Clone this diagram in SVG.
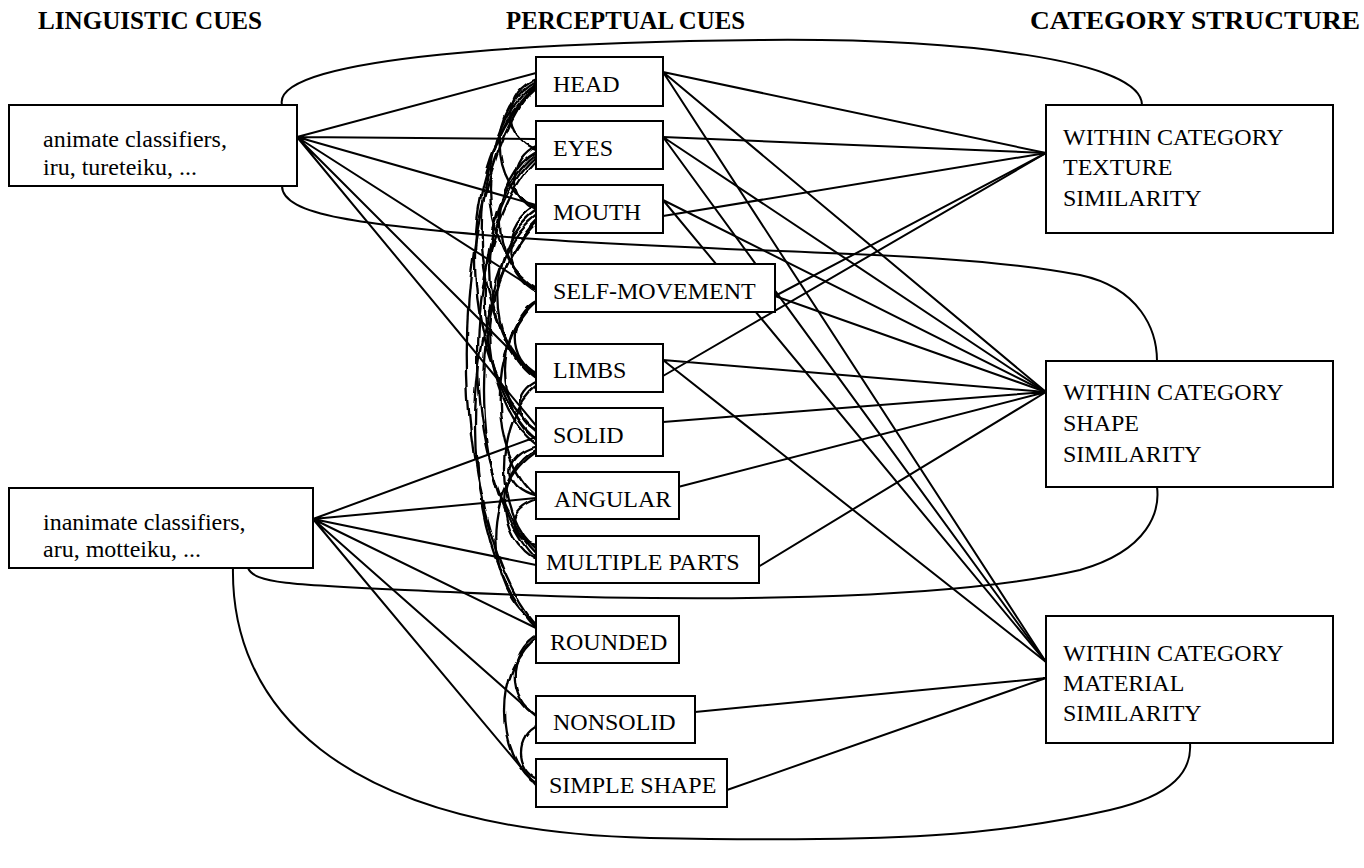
<svg xmlns="http://www.w3.org/2000/svg" width="1364" height="868" viewBox="0 0 1364 868">
<style>
.hdr{font-family:"Liberation Serif","Times New Roman",serif;font-weight:bold;font-size:25px;fill:#000}
.t{font-family:"Liberation Serif","Times New Roman",serif;font-size:24px;fill:#000}
.box{fill:#fff;stroke:#000;stroke-width:2}
.ln{fill:none;stroke:#000;stroke-width:2}
.wg{fill:none;stroke:#000;stroke-width:2.3}
</style>
<defs>
<filter id="wob" filterUnits="userSpaceOnUse" x="400" y="40" width="180" height="800">
<feTurbulence type="fractalNoise" baseFrequency="0.035" numOctaves="2" seed="3" result="n"/>
<feDisplacementMap in="SourceGraphic" in2="n" scale="6" xChannelSelector="R" yChannelSelector="G"/>
</filter>
</defs>
<rect width="1364" height="868" fill="#fff"/>
<g id="headers">
<text class="hdr" x="38" y="29" textLength="224" lengthAdjust="spacingAndGlyphs">LINGUISTIC CUES</text>
<text class="hdr" x="506" y="29" textLength="239" lengthAdjust="spacingAndGlyphs">PERCEPTUAL CUES</text>
<text class="hdr" x="1030" y="29" textLength="330" lengthAdjust="spacingAndGlyphs">CATEGORY STRUCTURE</text>
</g>
<g id="connectors">
<path class="ln" d="M282,105 C270,55 560,42 760,40 C960,38 1142,60 1142,105"/>
<path class="ln" d="M282,186 C282,215 360,225 520,238 C760,255 950,250 1080,275 C1140,288 1157,330 1157,361"/>
<path class="ln" d="M248,568 C255,585 300,585 450,592 C700,604 950,600 1080,570 C1150,550 1160,510 1157,487"/>
<path class="ln" d="M233,566 C230,700 330,830 650,838 C900,843 1000,835 1110,810 C1175,795 1192,770 1190,743"/>
<path class="ln" d="M297,137 L536,73 M297,137 L536,139 M297,137 L536,205 M297,137 L536,290 M297,137 L538,378 M297,137 L538,428"/>
<path class="ln" d="M313,519 L536,437 M313,519 L536,498 M313,519 L536,565 M313,519 L536,628 M313,519 L537,717 M313,519 L540,790"/>
<path class="ln" d="M663,72 L1046,153 M663,72 L1046,392 M663,72 L1046,662"/>
<path class="ln" d="M663,137 L1046,153 M663,137 L1046,392 M663,137 L1046,662"/>
<path class="ln" d="M663,216 L1046,153 M663,200 L1046,392 M663,200 L1046,662"/>
<path class="ln" d="M775,296 L1046,153 M775,296 L1046,392"/>
<path class="ln" d="M663,376 L1046,153 M663,360 L1046,392 M663,360 L1046,662"/>
<path class="ln" d="M663,422 L1046,392 M678,487 L1046,392 M758,567 L1046,392"/>
<path class="ln" d="M695,712 L1046,678 M727,790 L1046,678"/>
<g filter="url(#wob)">
<path class="wg" d="M538,78 C501,92 501,136 538,150"/>
<path class="wg" d="M538,80 C487,106 487,184 538,210"/>
<path class="wg" d="M538,82 C474,124 474,250 538,292"/>
<path class="wg" d="M538,84 C463,143 463,319 538,378"/>
<path class="wg" d="M538,86 C454,155 454,363 538,432"/>
<path class="wg" d="M538,80 C443,190 443,518 538,628"/>
<path class="wg" d="M538,145 C507,158 507,199 538,212"/>
<path class="wg" d="M538,150 C487,178 487,262 538,290"/>
<path class="wg" d="M538,152 C474,198 474,334 538,380"/>
<path class="wg" d="M538,155 C467,212 467,383 538,440"/>
<path class="wg" d="M538,158 C458,237 458,476 538,555"/>
<path class="wg" d="M538,205 C501,222 501,275 538,292"/>
<path class="wg" d="M538,210 C485,244 485,346 538,380"/>
<path class="wg" d="M538,215 C474,261 474,399 538,445"/>
<path class="wg" d="M538,220 C466,288 466,492 538,560"/>
<path class="wg" d="M538,222 C454,304 454,548 538,630"/>
<path class="wg" d="M538,300 C507,315 507,360 538,375"/>
<path class="wg" d="M538,300 C494,328 494,412 538,440"/>
<path class="wg" d="M538,300 C487,339 487,458 538,497"/>
<path class="wg" d="M538,382 C514,392 514,420 538,430"/>
<path class="wg" d="M538,385 C494,418 494,517 538,550"/>
<path class="wg" d="M538,445 C501,455 501,487 538,497"/>
<path class="wg" d="M538,448 C494,470 494,538 538,560"/>
<path class="wg" d="M538,500 C507,509 507,536 538,545"/>
<path class="wg" d="M538,450 C481,485 481,590 538,625"/>
<path class="wg" d="M538,635 C507,651 507,701 538,717"/>
<path class="wg" d="M538,637 C494,667 494,755 538,785"/>
<path class="wg" d="M538,725 C514,736 514,769 538,780"/>
</g>
</g>
<g id="animate">
<rect class="box" x="9" y="105" width="288" height="81"/>
<text class="t" x="43" y="147">animate classifiers,</text>
<text class="t" x="43" y="175">iru, tureteiku, ...</text>
</g>
<g id="inanimate">
<rect class="box" x="9" y="488" width="304" height="80"/>
<text class="t" x="43" y="530">inanimate classifiers,</text>
<text class="t" x="43" y="557">aru, motteiku, ...</text>
</g>
<g id="head"><rect class="box" x="536" y="57" width="127" height="49"/><text class="t" x="553" y="92">HEAD</text></g>
<g id="eyes"><rect class="box" x="536" y="121" width="127" height="48"/><text class="t" x="553" y="156">EYES</text></g>
<g id="mouth"><rect class="box" x="536" y="185" width="127" height="48"/><text class="t" x="553" y="220">MOUTH</text></g>
<g id="self-movement"><rect class="box" x="536" y="264" width="239" height="48"/><text class="t" x="553" y="299">SELF-MOVEMENT</text></g>
<g id="limbs"><rect class="box" x="536" y="344" width="127" height="48"/><text class="t" x="553" y="378">LIMBS</text></g>
<g id="solid"><rect class="box" x="536" y="408" width="127" height="48"/><text class="t" x="553" y="443">SOLID</text></g>
<g id="angular"><rect class="box" x="536" y="472" width="143" height="47"/><text class="t" x="554" y="507">ANGULAR</text></g>
<g id="multiple-parts"><rect class="box" x="536" y="536" width="223" height="47"/><text class="t" x="546" y="570">MULTIPLE PARTS</text></g>
<g id="rounded"><rect class="box" x="536" y="616" width="143" height="47"/><text class="t" x="550" y="650">ROUNDED</text></g>
<g id="nonsolid"><rect class="box" x="536" y="696" width="159" height="47"/><text class="t" x="553" y="730">NONSOLID</text></g>
<g id="simple-shape"><rect class="box" x="536" y="759" width="191" height="48"/><text class="t" x="549" y="793">SIMPLE SHAPE</text></g>
<g id="texture">
<rect class="box" x="1046" y="105" width="287" height="128"/>
<text class="t" x="1063" y="145">WITHIN CATEGORY</text>
<text class="t" x="1063" y="175">TEXTURE</text>
<text class="t" x="1063" y="206">SIMILARITY</text>
</g>
<g id="shape">
<rect class="box" x="1046" y="361" width="287" height="126"/>
<text class="t" x="1063" y="400">WITHIN CATEGORY</text>
<text class="t" x="1063" y="431">SHAPE</text>
<text class="t" x="1063" y="462">SIMILARITY</text>
</g>
<g id="material">
<rect class="box" x="1046" y="616" width="287" height="127"/>
<text class="t" x="1063" y="661">WITHIN CATEGORY</text>
<text class="t" x="1063" y="691">MATERIAL</text>
<text class="t" x="1063" y="721">SIMILARITY</text>
</g>
</svg>
